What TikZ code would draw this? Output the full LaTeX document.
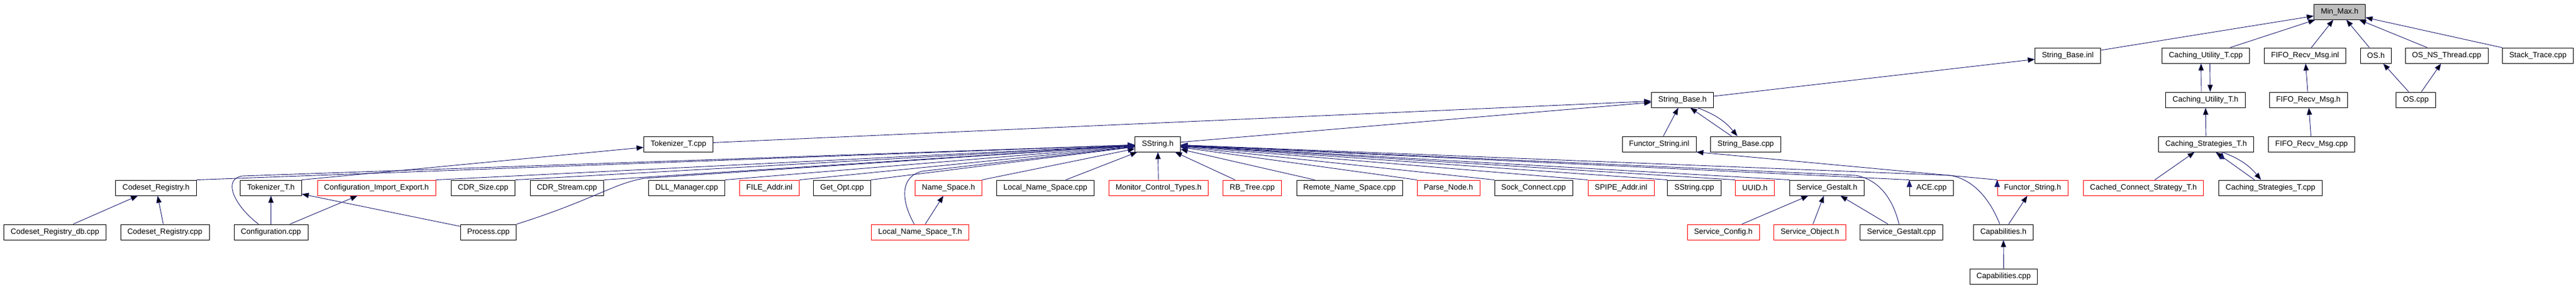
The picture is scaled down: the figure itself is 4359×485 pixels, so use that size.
\documentclass[tikz,border=0pt]{standalone}
\usepackage{fontspec}
\setmainfont{Liberation Sans}
\usepackage{tikz}
\usetikzlibrary{
    arrows.meta
}
\definecolor{midnight}{HTML}{191970}
\definecolor{grey75}{HTML}{BFBFBF}
\tikzset{
    file/.style={draw, line width=0.9pt, inner xsep=11.5pt, inner ysep=0pt,
        minimum height=26pt, font=\fontsize{13pt}{15pt}\selectfont},
    trunc/.style={file, draw=red},
    link/.style={draw=midnight, line width=0.9pt, -{Triangle[length=12pt, width=9pt]}}
}

\begin{document}
\begin{tikzpicture}[x=1pt, y=-1pt]
                        \useasboundingbox (0, 0) rectangle (4359, 485);

                        % row 1
                        \node[file, fill=grey75] (minmax) at (3959, 20) {Min\_Max.h};

                        % row 2
                        \node[file] (sbinl) at (3499, 94) {String\_Base.inl};
                        \node[file] (cutcpp) at (3732.5, 94) {Caching\_Utility\_T.cpp};
                        \node[file] (fifoinl) at (3900.5, 94) {FIFO\_Recv\_Msg.inl};
                        \node[file] (osh) at (4020.5, 94) {OS.h};
                        \node[file] (osthr) at (4140, 94) {OS\_NS\_Thread.cpp};
                        \node[file] (stack) at (4294.5, 94) {Stack\_Trace.cpp};

                        % row 3
                        \node[file] (sbh) at (2847, 169) {String\_Base.h};
                        \node[file] (cuth) at (3732, 169) {Caching\_Utility\_T.h};
                        \node[file] (fifoh) at (3906, 169) {FIFO\_Recv\_Msg.h};
                        \node[file] (oscpp) at (4088, 169) {OS.cpp};

                        % row 4
                        \node[file] (tokcpp) at (1148, 244) {Tokenizer\_T.cpp};
                        \node[file] (sstr) at (1959, 244) {SString.h};
                        \node[file] (fsinl) at (2807.5, 244) {Functor\_String.inl};
                        \node[file] (sbcpp) at (2954, 244) {String\_Base.cpp};
                        \node[file] (csth) at (3733, 244) {Caching\_Strategies\_T.h};
                        \node[file] (fifocpp) at (3911.5, 244) {FIFO\_Recv\_Msg.cpp};

                        % row 5
                        \node[file] (csrh) at (264, 318) {Codeset\_Registry.h};
                        \node[file] (tokh) at (458.5, 318) {Tokenizer\_T.h};
                        \node[trunc] (cie) at (637, 318) {Configuration\_Import\_Export.h};
                        \node[file] (cdrsize) at (817.5, 318) {CDR\_Size.cpp};
                        \node[file] (cdrstream) at (959.5, 318) {CDR\_Stream.cpp};
                        \node[file] (dll) at (1162, 318) {DLL\_Manager.cpp};
                        \node[trunc] (fileaddr) at (1302, 318) {FILE\_Addr.inl};
                        \node[file] (getopt) at (1425, 318) {Get\_Opt.cpp};
                        \node[trunc] (nsh) at (1605, 318) {Name\_Space.h};
                        \node[file] (lnscpp) at (1769, 318) {Local\_Name\_Space.cpp};
                        \node[trunc] (mct) at (1960.5, 318) {Monitor\_Control\_Types.h};
                        \node[trunc] (rbtree) at (2119, 318) {RB\_Tree.cpp};
                        \node[file] (rnscpp) at (2283.5, 318) {Remote\_Name\_Space.cpp};
                        \node[trunc] (parse) at (2451, 318) {Parse\_Node.h};
                        \node[file] (sock) at (2595, 318) {Sock\_Connect.cpp};
                        \node[trunc] (spipe) at (2743, 318) {SPIPE\_Addr.inl};
                        \node[file] (sstrcpp) at (2867, 318) {SString.cpp};
                        \node[trunc] (uuid) at (2969.5, 318) {UUID.h};
                        \node[file] (sgh) at (3091.5, 318) {Service\_Gestalt.h};
                        \node[file] (ace) at (3268.5, 318) {ACE.cpp};
                        \node[trunc] (fsh) at (3439.5, 318) {Functor\_String.h};
                        \node[trunc] (ccst) at (3627, 318) {Cached\_Connect\_Strategy\_T.h};
                        \node[file] (cstcpp) at (3842, 318) {Caching\_Strategies\_T.cpp};

                        % row 6
                        \node[file] (csrdb) at (93, 393) {Codeset\_Registry\_db.cpp};
                        \node[file] (csrcpp) at (279, 393) {Codeset\_Registry.cpp};
                        \node[file] (config) at (458.5, 393) {Configuration.cpp};
                        \node[file] (process) at (826.5, 393) {Process.cpp};
                        \node[trunc] (lnsth) at (1557, 393) {Local\_Name\_Space\_T.h};
                        \node[trunc] (svcconf) at (2916, 393) {Service\_Config.h};
                        \node[trunc] (svcobj) at (3062.5, 393) {Service\_Object.h};
                        \node[file] (sgcpp) at (3217.5, 393) {Service\_Gestalt.cpp};
                        \node[file] (capsh) at (3390, 393) {Capabilities.h};

                        % row 7
                        \node[file] (capscpp) at (3390.5, 468) {Capabilities.cpp};

                        % includes of Min_Max.h and below
                        \draw[link]
                        (sbinl) edge (minmax)
                        (cutcpp) edge (minmax)
                        (fifoinl) edge (minmax)
                        (osh) edge (minmax)
                        (osthr) edge (minmax)
                        (stack) edge (minmax)
                        (sbh) edge (sbinl)
                        ([xshift=-7pt]cuth.north) edge ([xshift=-8pt]cutcpp.south)
                        ([xshift=7pt]cutcpp.south) edge ([xshift=8pt]cuth.north)
                        (csth) edge (cuth)
                        (fifoh) edge (fifoinl)
                        (fifocpp) edge (fifoh)
                        (oscpp) edge (osh)
                        (oscpp) edge (osthr)
                        (ccst) edge (csth)
                        ([xshift=-27pt]cstcpp.north) edge ([xshift=16pt]csth.south)
                        ([xshift=27pt]csth.south) edge[bend left=15] ([xshift=-16pt]cstcpp.north);

                        % String_Base.h
                        \draw[link]
                        (fsinl) edge (sbh)
                        ([xshift=-24pt]sbcpp.north) edge ([xshift=13pt]sbh.south)
                        ([xshift=25pt]sbh.south) edge[bend left=15] ([xshift=-14pt]sbcpp.north)
                        (tokcpp) edge (sbh)
                        (sstr) edge (sbh)
                        (tokh.north east) edge (tokcpp)
                        (fsh.north west) edge (fsinl.south east);

                        % SString.h
                        \draw[link]
                        (csrh.north east) edge (sstr)
                        (cie.north east) edge (sstr)
                        (cdrsize.north east) edge (sstr)
                        (cdrstream.north east) edge (sstr)
                        (dll.north east) edge (sstr)
                        (fileaddr.north east) edge (sstr)
                        (getopt.north east) edge (sstr)
                        (nsh.north east) edge (sstr)
                        (lnscpp) edge (sstr)
                        (mct) edge (sstr)
                        (rbtree) edge (sstr)
                        (rnscpp) edge (sstr)
                        (parse.north west) edge (sstr)
                        (sock.north west) edge (sstr)
                        (spipe.north west) edge (sstr)
                        (sstrcpp.north west) edge (sstr)
                        (uuid.north west) edge (sstr)
                        (sgh.north west) edge (sstr)
                        (ace.north west) edge (sstr);
                        \draw[link] ([xshift=-21pt]config.north) .. controls (396, 348) and (376, 303) .. (410, 298) -- (sstr);
                        \draw[link] (process.north east) .. controls (1000, 340) and (1040, 310) .. (1090, 302) -- (sstr);
                        \draw[link] ([xshift=-10pt]lnsth.north) .. controls (1525, 340) and (1522, 300) .. (1560, 290) -- (sstr);
                        \draw[link] ([xshift=-4pt]sgcpp.north) .. controls (3205, 345) and (3185, 305) .. (3140, 297) -- (sstr);
                        \draw[link] ([xshift=-6pt]capsh.north) .. controls (3370, 345) and (3345, 305) .. (3300, 297) -- (sstr);

                        % lower rows
                        \draw[link]
                        (csrdb) edge (csrh)
                        (csrcpp) edge (csrh)
                        (config) edge (tokh)
                        (config) edge (cie)
                        (process) edge (tokh)
                        (lnsth) edge (nsh)
                        (svcconf) edge (sgh)
                        (svcobj) edge (sgh)
                        (sgcpp) edge (sgh)
                        (capsh) edge (fsh)
                        (capscpp) edge (capsh);
                    \end{tikzpicture}
\end{document}
